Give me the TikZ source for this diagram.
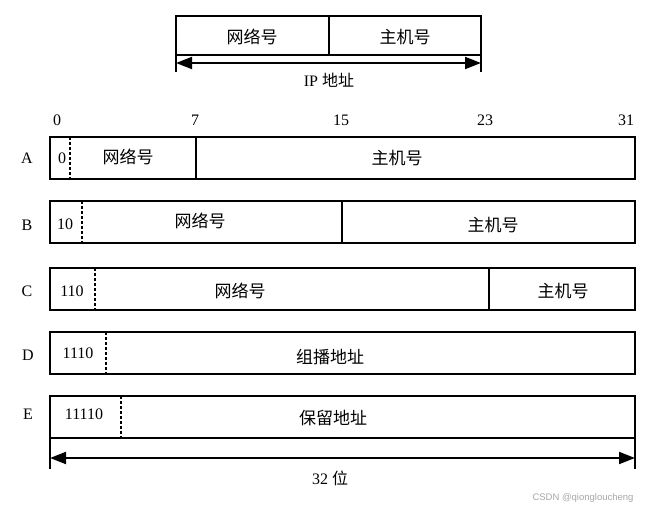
\documentclass[tikz,border=0pt]{standalone}
\usepackage{fontspec}
\setmainfont{Liberation Serif}
\newfontfamily\cjk{Noto Sans CJK SC}
\newfontfamily\wmfont{Liberation Sans}
\usetikzlibrary{arrows.meta}
\begin{document}
\begin{tikzpicture}[x=1pt,y=-1pt,
  every node/.style={font=\fontsize{16}{18}\selectfont, inner sep=0pt, outer sep=0pt},
  rowbox/.style={draw, line width=1.9pt, minimum width=585pt, minimum height=42pt, anchor=north west},
  topbox/.style={draw, line width=1.9pt, minimum width=305pt, minimum height=39pt, anchor=north west},
  solidiv/.style={line width=1.9pt},
  dashdiv/.style={line width=1.9pt, dash pattern=on 3pt off 2pt},
  tick/.style={line width=1.9pt},
  dimarrow/.style={line width=1.9pt, {Triangle[length=16pt,width=12pt]}-{Triangle[length=16pt,width=12pt]}},
  zh/.style={font=\cjk\fontsize{17}{19}\selectfont}
]
\useasboundingbox (0,0) rectangle (647,511);

% top IP address box
\node[topbox] (T) at (176,16) {};
\coordinate (Tm) at (329,16);
\draw[solidiv] (Tm) -- (Tm |- T.south);
\node[zh] (tnet) at (252,37) {网络号};
\node[zh] (thost) at (405,37) {主机号};
\coordinate (tl) at (176,72);
\coordinate (tr) at (481,72);
\draw[tick] (T.south west) -- (tl);
\draw[tick] (T.south east) -- (tr);
\coordinate (tal) at (176,63);
\coordinate (tar) at (481,63);
\draw[dimarrow] (tal) -- (tar);
\node (tip) at (329,80) {IP {\cjk 地址}};

% bit numbers
\node (b0) at (57,120) {0};
\node (b7) at (195,120) {7};
\node (b15) at (341,120) {15};
\node (b23) at (485,120) {23};
\node (b31) at (626,120) {31};

% class A
\node[rowbox] (A) at (50,137) {};
\node (lA) at (27,158) {A};
\draw[dashdiv] ([xshift=20pt]A.north west) -- ([xshift=20pt]A.south west);
\draw[solidiv] ([xshift=146pt]A.north west) -- ([xshift=146pt]A.south west);
\node (pA) at (62,158) {0};
\node[zh] (nA) at (128,157) {网络号};
\node[zh] (hA) at (397,158) {主机号};

% class B
\node[rowbox] (B) at (50,201) {};
\node (lB) at (27,225) {B};
\draw[dashdiv] ([xshift=32pt]B.north west) -- ([xshift=32pt]B.south west);
\draw[solidiv] ([xshift=292pt]B.north west) -- ([xshift=292pt]B.south west);
\node (pB) at (65,224) {10};
\node[zh] (nB) at (200,221) {网络号};
\node[zh] (hB) at (493,225) {主机号};

% class C
\node[rowbox] (C) at (50,268) {};
\node (lC) at (27,291) {C};
\draw[dashdiv] ([xshift=45pt]C.north west) -- ([xshift=45pt]C.south west);
\draw[solidiv] ([xshift=439pt]C.north west) -- ([xshift=439pt]C.south west);
\node (pC) at (72,291) {110};
\node[zh] (nC) at (240,291) {网络号};
\node[zh] (hC) at (563,291) {主机号};

% class D
\node[rowbox] (D) at (50,332) {};
\node (lD) at (28,355) {D};
\draw[dashdiv] ([xshift=56pt]D.north west) -- ([xshift=56pt]D.south west);
\node (pD) at (78,353) {1110};
\node[zh] (mD) at (330,357) {组播地址};

% class E
\node[rowbox] (E) at (50,396) {};
\node (lE) at (28,414) {E};
\draw[dashdiv] ([xshift=71pt]E.north west) -- ([xshift=71pt]E.south west);
\node (pE) at (84,414) {11110};
\node[zh] (rE) at (333,418) {保留地址};

% 32-bit dimension
\coordinate (bl) at (50,469);
\coordinate (br) at (635,469);
\draw[tick] (E.south west) -- (bl);
\draw[tick] (E.south east) -- (br);
\coordinate (bal) at (50,458);
\coordinate (bar) at (635,458);
\draw[dimarrow] (bal) -- (bar);
\node (w32) at (330,478) {32 {\cjk 位}};

% watermark
\node[font=\wmfont\fontsize{9.5}{11}\selectfont, text=black!35] (wm) at (583,498) {CSDN @qiongloucheng};
\end{tikzpicture}
\end{document}
